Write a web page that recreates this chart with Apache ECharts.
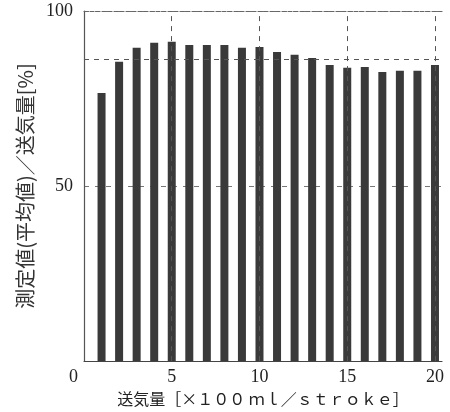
<!DOCTYPE html>
<html><head><meta charset="utf-8">
<script src="https://cdn.jsdelivr.net/npm/echarts@6/dist/echarts.min.js"></script>
<style>html,body{margin:0;padding:0;background:#fff}#c{width:450px;height:412px}</style>
</head><body><div id="c"></div>
<script>
const strokeVolumes = [1,2,3,4,5,6,7,8,9,10,11,12,13,14,15,16,17,18,19,20];
const ratioValues = [76.6,85.5,89.5,90.9,91.2,90.3,90.3,90.3,89.5,89.7,88.3,87.5,86.6,84.6,83.8,84.0,82.6,82.9,82.9,84.6];
const xGridValues = [5,10,15,20];
const referenceLevel = [86.3];
const xAxisName = '送気量［×１００ ｍｌ／ｓｔｒｏｋｅ］';
const yAxisName = '測定値(平均値)／送気量[%]';

const serif = "'Liberation Serif', 'DejaVu Serif', serif";
const cjk = "'Noto Sans CJK JP', sans-serif";

const chart = echarts.init(document.getElementById('c'), null, {renderer:'canvas'});
chart.setOption({
  animation:false,
  backgroundColor:'#ffffff',
  grid:{left:84, top:11, width:358, height:351},
  xAxis:[{
    type:'value', min:0, max:20.4, interval:5, position:'bottom',
    axisLine:{show:true, lineStyle:{color:'#444', width:1.2}},
    axisTick:{show:false},
    splitLine:{show:false},
    axisLabel:{
      fontFamily:serif, fontSize:18, color:'#222', margin:7, showMaxLabel:false,
      formatter:function(v){ return v===0 ? '{z|0}' : String(v); },
      rich:{z:{fontFamily:serif, fontSize:18, color:'#222', padding:[0,21,0,0]}}
    },
    name:xAxisName, nameLocation:'middle', nameGap:25,
    nameTextStyle:{fontFamily:cjk, fontSize:16, color:'#222'}
  },{
    type:'value', min:0, max:20.4, position:'top',
    axisLine:{show:true, lineStyle:{color:'#666', width:1.2, type:[4,2]}},
    axisTick:{show:false}, axisLabel:{show:false}, splitLine:{show:false}
  }],
  yAxis:{
    type:'value', min:0, max:100, interval:50,
    axisLine:{show:true, lineStyle:{color:'#555', width:1.2}},
    axisTick:{show:false},
    splitLine:{show:true, lineStyle:{color:'#777', type:[5,6], width:1}},
    axisLabel:{fontFamily:serif, fontSize:18, color:'#222', margin:11,
      formatter:function(v){ return v===0 ? '' : String(v); }},
    name:yAxisName, nameLocation:'middle', nameGap:48, nameRotate:90,
    nameTextStyle:{fontFamily:cjk, fontSize:20, color:'#333'}
  },
  series:[{
    type:'line', data:[], z:1, silent:true,
    markLine:{
      silent:true, symbol:'none', label:{show:false},
      lineStyle:{color:'#555', type:[5,5], width:1},
      data: xGridValues.map(v=>({xAxis:v})).concat(referenceLevel.map(v=>({yAxis:v})))
    }
  },{
    type:'bar', z:3, barWidth:8, clip:false,
    itemStyle:{color:'#3a3a3a'},
    data: strokeVolumes.map((x,i)=>[x, ratioValues[i]])
  }]
});
</script></body></html>
